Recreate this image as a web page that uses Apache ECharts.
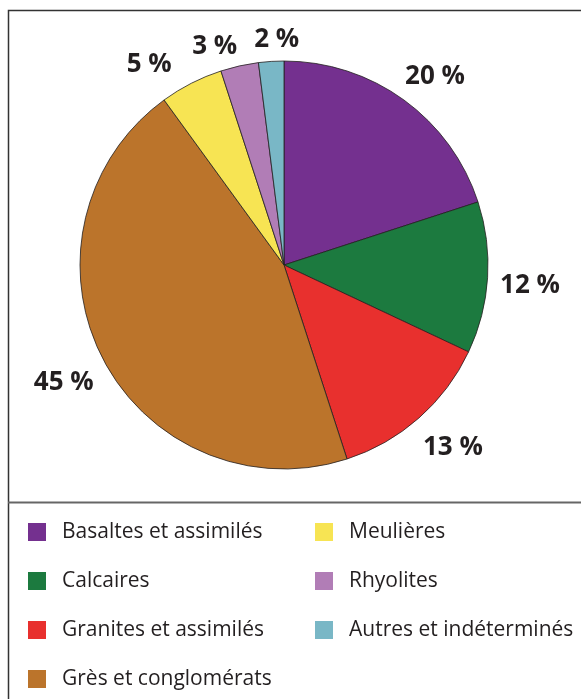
<!DOCTYPE html>
<html>
<head>
<meta charset="utf-8">
<script src="https://cdn.jsdelivr.net/npm/echarts@6/dist/echarts.min.js"></script>
<style>
    html, body { margin: 0; padding: 0; background: #fff; }
    #chart { width: 581px; height: 699px; }
</style>
</head>
<body>
<div id="chart"></div>
<script>
// Données
const categories = ['Basaltes et assimilés', 'Calcaires', 'Granites et assimilés', 'Grès et conglomérats', 'Meulières', 'Rhyolites', 'Autres et indéterminés'];
const values = [20, 12, 13, 45, 5, 3, 2];
const colors = ['#74308f', '#1c7a3f', '#e8302e', '#bb742b', '#f7e453', '#b17db6', '#79b7c6'];
const legendLeft = ['Basaltes et assimilés', 'Calcaires', 'Granites et assimilés', 'Grès et conglomérats'];
const legendRight = ['Meulières', 'Rhyolites', 'Autres et indéterminés'];

const chart = echarts.init(document.getElementById('chart'));

const textColor = '#231f20';
const center = [284, 265];
const radius = 204;
const labelGap = 12;
// retouches manuelles des étiquettes (comme sur l'original)
const labelNudge = { 0: [9, 2], 2: [8, -5], 4: [-28, 4], 5: [-19, 2], 6: [7, -3] };

const total = values.reduce((a, b) => a + b, 0);

function midAngle(i) {
    let before = 0;
    for (let k = 0; k < i; k++) before += values[k];
    return (before + values[i] / 2) / total * 2 * Math.PI;
}

// place l'étiquette à distance fixe du bord du camembert
function placeLabel(params) {
    const a = midAngle(params.dataIndex);
    const sx = Math.sin(a), cy = -Math.cos(a);
    const hw = params.labelRect.width / 2, hh = 10;
    const r = radius + labelGap + hw * Math.abs(sx) + hh * Math.abs(cy);
    const nudge = labelNudge[params.dataIndex] || [0, 0];
    return {
        x: center[0] + r * sx + nudge[0],
        y: center[1] + r * cy + 5 + nudge[1],
        align: 'center',
        verticalAlign: 'middle'
    };
}

const pieData = categories.map((name, i) => ({
    name: name,
    value: values[i],
    itemStyle: { color: colors[i] }
}));

function legendOpt(list, left) {
    return {
        data: list,
        orient: 'vertical',
        left: left,
        top: 521,
        height: 180,
        padding: 0,
        itemWidth: 18,
        itemHeight: 18,
        itemGap: 27,
        icon: 'rect',
        selectedMode: false,
        itemStyle: { borderWidth: 0 },
        textStyle: {
            color: textColor,
            fontFamily: 'Open Sans',
            fontSize: 21,
            lineHeight: 22,
            padding: [0, 0, 0, 11]
        }
    };
}

chart.setOption({
    animation: false,
    backgroundColor: '#fff',
    color: colors,
    legend: [legendOpt(legendLeft, 28), legendOpt(legendRight, 315)],
    graphic: [
        {
            type: 'rect',
            shape: { x: 8.5, y: 10.5, width: 620, height: 720 },
            style: { fill: 'none', stroke: '#333', lineWidth: 1.5 },
            silent: true
        },
        {
            type: 'line',
            shape: { x1: 8, y1: 502.5, x2: 600, y2: 502.5 },
            style: { stroke: '#666', lineWidth: 2 },
            silent: true
        }
    ],
    series: [
        {
            type: 'pie',
            center: center,
            radius: [0, radius],
            startAngle: 90,
            clockwise: true,
            silent: true,
            avoidLabelOverlap: false,
            label: {
                show: true,
                position: 'outside',
                formatter: '{c} %',
                color: textColor,
                fontFamily: 'Open Sans',
                fontWeight: 'bold',
                fontSize: 26
            },
            labelLine: { show: false },
            labelLayout: placeLabel,
            itemStyle: { borderColor: '#231f20', borderWidth: 0.8 },
            data: pieData
        }
    ]
});
</script>
</body>
</html>
